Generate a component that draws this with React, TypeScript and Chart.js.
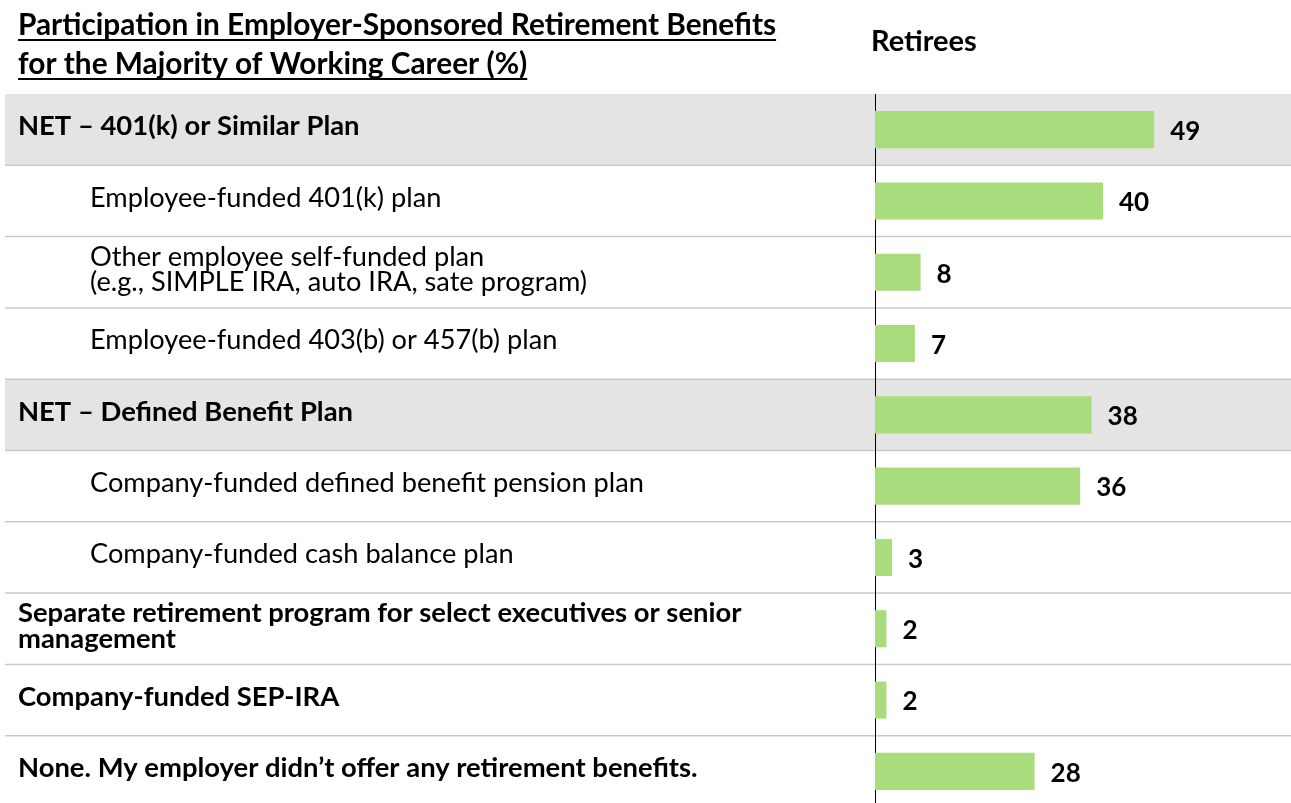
import { useEffect, useRef } from 'react';
import { Chart, registerables } from 'chart.js';

Chart.register(...registerables);

const TITLE_LINES = [
  'Participation in Employer-Sponsored Retirement Benefits',
  'for the Majority of Working Career (%)',
];
const SERIES_NAME = 'Retirees';

const categories: string[][] = [
  ['NET – 401(k) or Similar Plan'],
  ['Employee-funded 401(k) plan'],
  ['Other employee self-funded plan', '(e.g., SIMPLE IRA, auto IRA, sate program)'],
  ['Employee-funded 403(b) or 457(b) plan'],
  ['NET – Defined Benefit Plan'],
  ['Company-funded defined benefit pension plan'],
  ['Company-funded cash balance plan'],
  ['Separate retirement program for select executives or senior', 'management'],
  ['Company-funded SEP-IRA'],
  ['None. My employer didn’t offer any retirement benefits.'],
];

const values = [49, 40, 8, 7, 38, 36, 3, 2, 2, 28];

// 'net' = bold on grey band, 'sub' = indented regular, 'main' = bold
const rowLevels = ['net', 'sub', 'sub', 'sub', 'net', 'sub', 'sub', 'main', 'main', 'main'];

const FONT = 'Lato, "Open Sans", sans-serif';
const BAR_COLOR = '#a8dc7c';
const BAND_COLOR = '#e4e4e4';
const RULE_COLOR = '#c9c9c9';

const tablePlugin = {
  id: 'tablePlugin',
  beforeDraw(chart: any) {
    const { ctx } = chart;
    const y = chart.scales.y;
    const w = chart.width;
    const step = y.getPixelForValue(1) - y.getPixelForValue(0);
    ctx.save();
    rowLevels.forEach((lvl, i) => {
      if (lvl === 'net') {
        const c = y.getPixelForValue(i);
        ctx.fillStyle = BAND_COLOR;
        ctx.fillRect(5, c - step / 2, w - 5, step);
      }
    });
    ctx.strokeStyle = RULE_COLOR;
    ctx.lineWidth = 1.5;
    for (let i = 1; i < categories.length; i++) {
      const yy = (y.getPixelForValue(i - 1) + y.getPixelForValue(i)) / 2;
      ctx.beginPath();
      ctx.moveTo(5, yy);
      ctx.lineTo(w, yy);
      ctx.stroke();
    }
    ctx.restore();
  },
  afterDatasetsDraw(chart: any) {
    const { ctx } = chart;
    const meta = chart.getDatasetMeta(0);
    const size = 26;
    ctx.save();
    ctx.font = `bold ${size}px ${FONT}`;
    ctx.fillStyle = '#000';
    ctx.textAlign = 'left';
    ctx.textBaseline = 'alphabetic';
    meta.data.forEach((bar: any, i: number) => {
      const v = chart.data.datasets[0].data[i];
      ctx.fillText(String(v), bar.x + 16, bar.y + 1 + size * 0.717 / 2);
    });
    ctx.restore();
  },
  afterDraw(chart: any) {
    const { ctx } = chart;
    const y = chart.scales.y;
    ctx.save();
    ctx.fillStyle = '#000';
    ctx.textAlign = 'left';
    ctx.textBaseline = 'alphabetic';
    categories.forEach((lines, i) => {
      const lvl = rowLevels[i];
      const size = lvl === 'sub' ? 27.2 : 27.4;
      const capHalf = (26 * 0.717) / 2;
      const c = y.getPixelForValue(i) - 3.5;
      ctx.font = `${lvl === 'sub' ? '' : 'bold '}${size}px ${FONT}`;
      const x = lvl === 'sub' ? 90 : 18;
      const lh = lvl === 'sub' ? 25 : 26;
      const n = lines.length;
      lines.forEach((t, k) => {
        const cy = c + (k - (n - 1) / 2) * lh;
        ctx.fillText(t, x, cy + capHalf);
      });
    });

    // title (bold, underlined)
    const tSize = 29.8;
    ctx.font = `bold ${tSize}px ${FONT}`;
    const baselines = [35, 74];
    TITLE_LINES.forEach((t, k) => {
      ctx.fillText(t, 18, baselines[k]);
      const wdt = ctx.measureText(t).width;
      ctx.fillRect(18, baselines[k] + 4, wdt, 2);
    });

    // series header
    ctx.font = `bold 29px ${FONT}`;
    ctx.fillText(chart.data.datasets[0].label, 871, 51);
    ctx.restore();
  },
};

export default function App() {
  const ref = useRef<HTMLCanvasElement | null>(null);

  useEffect(() => {
    document.body.style.margin = '0';
    document.body.style.overflow = 'hidden';
    if (!ref.current) return;
    const chart = new Chart(ref.current, {
      type: 'bar',
      data: {
        labels: categories,
        datasets: [
          {
            label: SERIES_NAME,
            data: values,
            backgroundColor: BAR_COLOR,
            borderWidth: 0,
            barPercentage: 0.52,
            categoryPercentage: 1,
          },
        ],
      },
      options: {
        indexAxis: 'y',
        responsive: false,
        animation: false,
        layout: { padding: { top: 94, left: 0, right: 0, bottom: 0 } },
        plugins: {
          legend: { display: false },
          tooltip: { enabled: false },
          title: { display: false },
        },
        scales: {
          x: { display: false, min: 0, max: 73 },
          y: {
            grid: { display: false },
            border: { display: true, color: '#000', width: 1 },
            ticks: { display: false },
            afterFit: (s: any) => {
              s.width = 875;
            },
          },
        },
      },
      plugins: [tablePlugin],
    } as any);
    return () => chart.destroy();
  }, []);

  return (
    <div style={{ width: 1291, height: 803, overflow: 'hidden', position: 'relative', background: '#fff' }}>
      <canvas ref={ref} width={1291} height={807} style={{ display: 'block' }} />
    </div>
  );
}
